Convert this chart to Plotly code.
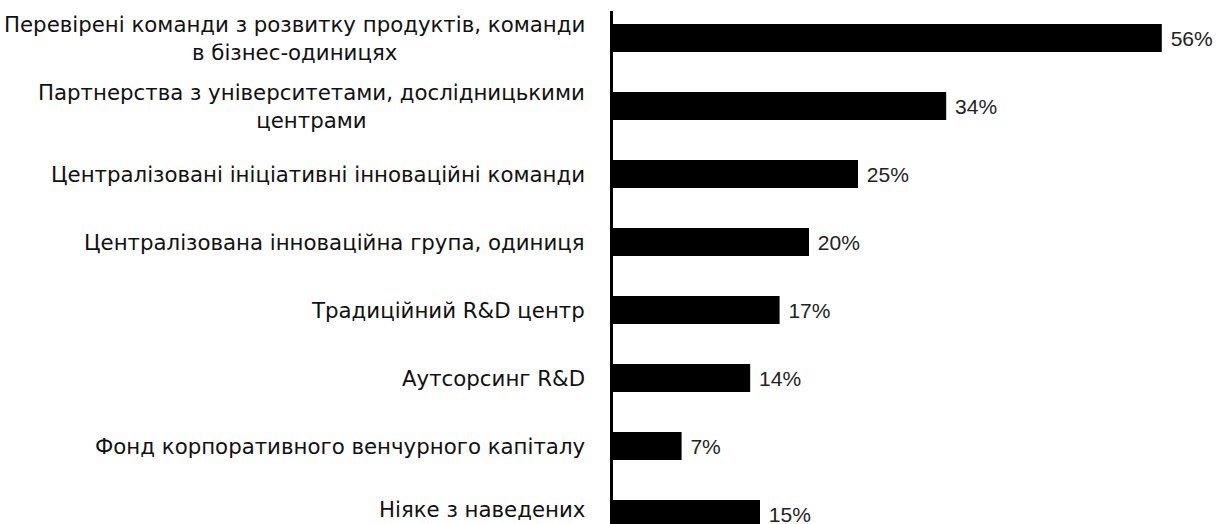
import plotly.graph_objects as go

categories = [
    "Перевірені команди з розвитку продуктів, команди<br>в бізнес-одиницях",
    "Партнерства з університетами, дослідницькими<br>центрами",
    "Централізовані ініціативні інноваційні команди",
    "Централізована інноваційна група, одиниця",
    "Традиційний R&D центр",
    "Аутсорсинг R&D",
    "Фонд корпоративного венчурного капіталу",
    "Ніяке з наведених",
]
values = [56, 34, 25, 20, 17, 14, 7, 15]

W, H = 1220, 524
L, T = 613, 11
px_per_pct = 9.8
band = 68.0
first_center = 38.0

xmax = (W - L) / px_per_pct
r_top = -(first_center - T) / band
r_bot = r_top + (H - T) / band

fig = go.Figure()
fig.add_trace(go.Bar(
    y=categories,
    x=values,
    orientation="h",
    width=0.41,
    marker=dict(color="#000000", line=dict(width=0)),
    text=[f"\u00a0{v}%" for v in values],
    textposition="outside",
    constraintext="none",
    cliponaxis=False,
    textfont=dict(family="Liberation Sans", size=21, color="#222222"),
    hoverinfo="skip",
))

n = len(categories)
for i, c in enumerate(categories):
    fig.add_annotation(
        x=0, y=c, xref="x", yref="y",
        text=c, showarrow=False,
        xanchor="right", yanchor="middle", align="center",
        xshift=-26, yshift=(5 if i == n - 1 else 0),
        font=dict(family="DejaVu Sans", size=21.3, color="#111111"),
    )

fig.update_layout(
    width=W, height=H,
    margin=dict(l=L, r=0, t=T, b=0, pad=0),
    paper_bgcolor="white", plot_bgcolor="white",
    showlegend=False,
    bargap=0.59,
)
fig.update_xaxes(range=[0, xmax], visible=False, showgrid=False, zeroline=False)
fig.update_yaxes(
    type="category",
    categoryorder="array", categoryarray=categories,
    range=[r_bot, r_top],
    showticklabels=False, ticks="",
    showline=True, linecolor="#000000", linewidth=3,
    showgrid=False, zeroline=False,
)

fig.write_html("out.html")
